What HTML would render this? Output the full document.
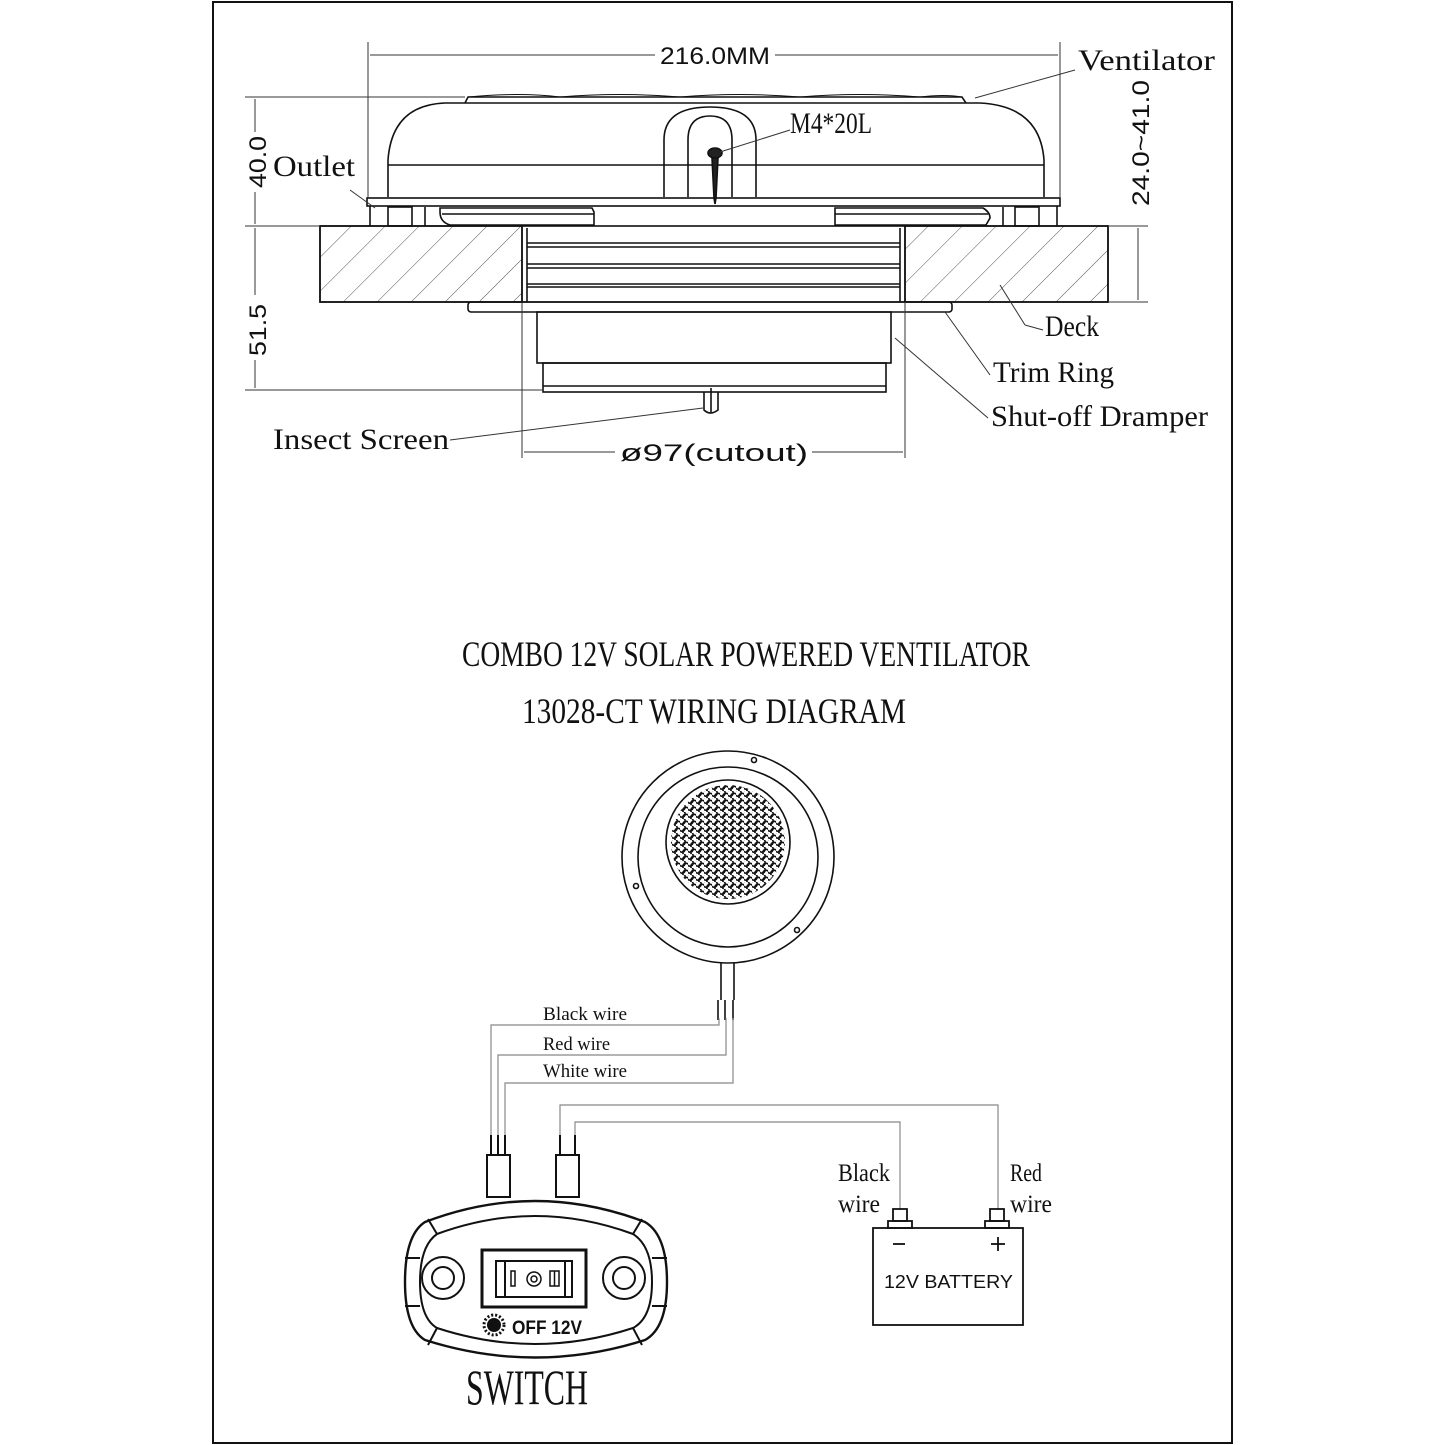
<!DOCTYPE html>
<html><head><meta charset="utf-8"><style>
html,body{margin:0;padding:0;background:#fff}
svg{display:block}
text{font-family:"Liberation Serif",serif;fill:#111}
.s{font-family:"Liberation Sans",sans-serif}
</style></head><body>
<svg width="1445" height="1445" viewBox="0 0 1445 1445" xmlns="http://www.w3.org/2000/svg">
<defs>
<pattern id="hatch" patternUnits="userSpaceOnUse" width="24" height="24" patternTransform="rotate(45)">
<line x1="0" y1="0" x2="0" y2="24" stroke="#555" stroke-width="1"/>
</pattern>
<pattern id="dots" patternUnits="userSpaceOnUse" width="8" height="7">
<circle cx="2" cy="2" r="3.2" fill="none" stroke="#111" stroke-width="1.6"/>
<circle cx="6" cy="5.5" r="3.2" fill="none" stroke="#111" stroke-width="1.6"/>
</pattern>
<clipPath id="gc"><circle cx="728" cy="842" r="57"/></clipPath>
</defs>
<rect x="213" y="2" width="1019" height="1441" fill="none" stroke="#111" stroke-width="2"/>

<!-- TOP DRAWING -->
<g fill="none" stroke="#111" stroke-width="1.6">
<path d="M465,103 L468,97 L962,97 L966,103"/>
<path d="M468,97 Q520,92 560,97 Q620,92 680,97 Q740,92 800,97 Q860,92 920,97 Q945,94 962,97" stroke-width="1"/>
<path d="M388,197 L388,160 Q392,105 445,103 L980,103 Q1040,106 1044,160 L1044,197"/>
<line x1="388" y1="165" x2="1044" y2="165"/>
<path d="M664,197 L664,140 Q664,107 710,107 Q756,107 756,140 L756,197"/>
<path d="M688,197 L688,140 Q688,116 710,116 Q732,116 732,140 L732,197"/>
<ellipse cx="715" cy="153" rx="7" ry="5" fill="#222"/>
<path d="M712,158 L718,158 L716,198 L715,204 L714,198Z" fill="#222"/>
<rect x="367" y="198" width="693" height="8"/>
<line x1="370" y1="206" x2="370" y2="226"/>
<line x1="1057" y1="206" x2="1057" y2="226"/>
<rect x="388" y="207" width="24" height="19"/>
<rect x="1015" y="207" width="24" height="19"/>
<line x1="425" y1="207" x2="425" y2="226"/><line x1="1003" y1="207" x2="1003" y2="226"/>
<path d="M440,208 L592,208 L594,212 L594,225 L450,225 Q440,222 440,212Z"/>
<line x1="442" y1="214" x2="594" y2="214"/>
<path d="M835,208 L983,208 Q990,212 990,218 L986,225 L835,225Z"/>
<line x1="835" y1="214" x2="988" y2="214"/>
<rect x="320" y="226" width="202" height="76" fill="url(#hatch)"/>
<rect x="905" y="226" width="203" height="76" fill="url(#hatch)"/>
<rect x="320" y="226" width="788" height="76"/>
<line x1="522" y1="226" x2="522" y2="302"/><line x1="905" y1="226" x2="905" y2="302"/>
<line x1="527" y1="228" x2="527" y2="302"/><line x1="900" y1="228" x2="900" y2="302"/>
<line x1="527" y1="243" x2="900" y2="243"/><line x1="527" y1="247" x2="900" y2="247"/>
<line x1="527" y1="264" x2="900" y2="264"/><line x1="527" y1="268" x2="900" y2="268"/>
<line x1="527" y1="284" x2="900" y2="284"/><line x1="527" y1="287" x2="900" y2="287"/>
<rect x="468" y="302" width="484" height="10" rx="3"/>
<rect x="537" y="312" width="354" height="51"/>
<rect x="543" y="363" width="343" height="29"/>
<line x1="543" y1="386" x2="886" y2="386"/>
<path d="M704,392 L704,410 Q710,416 718,410 L718,392"/>
<line x1="711" y1="388" x2="711" y2="412"/>
</g>
<g fill="none" stroke="#333" stroke-width="1">
<line x1="368" y1="42" x2="368" y2="198"/><line x1="1060" y1="42" x2="1060" y2="198"/>
<line x1="370" y1="55" x2="655" y2="55"/><line x1="775" y1="55" x2="1058" y2="55"/>
<line x1="245" y1="97" x2="465" y2="97"/>
<line x1="245" y1="226" x2="320" y2="226"/>
<line x1="245" y1="390" x2="543" y2="390"/>
<line x1="255" y1="99" x2="255" y2="132"/><line x1="255" y1="192" x2="255" y2="224"/>
<line x1="255" y1="228" x2="255" y2="295"/><line x1="255" y1="360" x2="255" y2="388"/>
<line x1="1108" y1="226" x2="1148" y2="226"/><line x1="1108" y1="302" x2="1148" y2="302"/>
<line x1="1138" y1="228" x2="1138" y2="300"/>
<line x1="522" y1="302" x2="522" y2="458"/><line x1="905" y1="302" x2="905" y2="458"/>
<line x1="524" y1="452" x2="615" y2="452"/><line x1="812" y1="452" x2="903" y2="452"/>
<line x1="1075" y1="70" x2="975" y2="98"/>
<line x1="790" y1="130" x2="720" y2="152"/>
<line x1="350" y1="190" x2="375" y2="208"/>
<line x1="1043" y1="330" x2="1025" y2="325"/><line x1="1025" y1="325" x2="1000" y2="285"/>
<line x1="990" y1="375" x2="945" y2="312"/>
<line x1="988" y1="418" x2="895" y2="338"/>
<line x1="450" y1="440" x2="703" y2="408"/>
</g>
<g font-size="30">
<text x="660" y="64" class="s" font-size="24" textLength="110" lengthAdjust="spacingAndGlyphs">216.0MM</text>
<text x="1078" y="70" textLength="137" lengthAdjust="spacingAndGlyphs">Ventilator</text>
<text x="790" y="133" textLength="82" lengthAdjust="spacingAndGlyphs">M4*20L</text>
<text x="273" y="176" textLength="82" lengthAdjust="spacingAndGlyphs">Outlet</text>
<text x="1045" y="336" textLength="54" lengthAdjust="spacingAndGlyphs">Deck</text>
<text x="993" y="382" textLength="121" lengthAdjust="spacingAndGlyphs">Trim Ring</text>
<text x="991" y="426" textLength="217" lengthAdjust="spacingAndGlyphs">Shut-off Dramper</text>
<text x="273" y="449" textLength="176" lengthAdjust="spacingAndGlyphs">Insect Screen</text>
<text x="620" y="461" class="s" font-size="24" textLength="188" lengthAdjust="spacingAndGlyphs">ø97(cutout)</text>
<text class="s" font-size="24" transform="translate(266,188) rotate(-90)" textLength="52" lengthAdjust="spacingAndGlyphs">40.0</text>
<text class="s" font-size="24" transform="translate(266,356) rotate(-90)" textLength="52" lengthAdjust="spacingAndGlyphs">51.5</text>
<text class="s" font-size="24" transform="translate(1149,206) rotate(-90)" textLength="126" lengthAdjust="spacingAndGlyphs">24.0~41.0</text>
</g>

<text x="462" y="666" font-size="36" textLength="568" lengthAdjust="spacingAndGlyphs">COMBO 12V SOLAR POWERED VENTILATOR</text>
<text x="522" y="723" font-size="36" textLength="384" lengthAdjust="spacingAndGlyphs">13028-CT WIRING DIAGRAM</text>

<g fill="none" stroke="#111" stroke-width="1.6">
<circle cx="728" cy="857" r="106"/>
<circle cx="728" cy="857" r="90"/>
<circle cx="728" cy="842" r="62"/>
<circle cx="754" cy="760" r="2.5"/><circle cx="636" cy="886" r="2.5"/><circle cx="797" cy="930" r="2.5"/>
<line x1="721" y1="963" x2="721" y2="1000"/><line x1="734" y1="963" x2="734" y2="1000"/>
<line x1="718" y1="1000" x2="718" y2="1020"/><line x1="725" y1="1000" x2="725" y2="1020"/><line x1="733" y1="1000" x2="733" y2="1020"/>
</g>
<rect x="668" y="782" width="120" height="120" fill="url(#dots)" clip-path="url(#gc)"/>

<g fill="none" stroke="#888" stroke-width="1.2">
<path d="M719,1018 L719,1025 L491,1025 L491,1135"/>
<path d="M726,1018 L726,1055 L498,1055 L498,1135"/>
<path d="M733,1018 L733,1083 L505,1083 L505,1135"/>
<path d="M560,1135 L560,1105 L998,1105 L998,1210"/>
<path d="M575,1135 L575,1122 L900,1122 L900,1210"/>
</g>
<g font-size="19">
<text x="543" y="1020" textLength="84" lengthAdjust="spacingAndGlyphs">Black wire</text>
<text x="543" y="1050" textLength="67" lengthAdjust="spacingAndGlyphs">Red wire</text>
<text x="543" y="1077" textLength="84" lengthAdjust="spacingAndGlyphs">White wire</text>
<text x="838" y="1181" font-size="25" textLength="52" lengthAdjust="spacingAndGlyphs">Black</text>
<text x="838" y="1212" font-size="25" textLength="42" lengthAdjust="spacingAndGlyphs">wire</text>
<text x="1010" y="1181" font-size="25" textLength="32" lengthAdjust="spacingAndGlyphs">Red</text>
<text x="1010" y="1212" font-size="25" textLength="42" lengthAdjust="spacingAndGlyphs">wire</text>
</g>

<g fill="none" stroke="#111" stroke-width="2">
<line x1="491" y1="1135" x2="491" y2="1155"/><line x1="498" y1="1135" x2="498" y2="1155"/><line x1="505" y1="1135" x2="505" y2="1155"/>
<line x1="560" y1="1135" x2="560" y2="1155"/><line x1="575" y1="1135" x2="575" y2="1155"/>
<rect x="487" y="1155" width="23" height="42"/>
<rect x="556" y="1155" width="23" height="42"/>
<path d="M425,1222 Q535,1180 645,1222 Q667,1235 667,1282 Q667,1328 645,1340 Q535,1375 425,1340 Q405,1328 405,1282 Q405,1235 425,1222Z" stroke-width="2.4"/>
<path d="M437,1234 Q535,1198 633,1234 Q652,1246 652,1282 Q652,1318 633,1328 Q535,1360 437,1328 Q420,1318 420,1282 Q420,1246 437,1234Z"/>
<line x1="405" y1="1258" x2="420" y2="1258"/><line x1="405" y1="1306" x2="420" y2="1306"/>
<line x1="652" y1="1258" x2="667" y2="1258"/><line x1="652" y1="1306" x2="667" y2="1306"/>
<line x1="428" y1="1219" x2="437" y2="1234"/><line x1="642" y1="1219" x2="633" y2="1234"/>
<line x1="428" y1="1345" x2="437" y2="1328"/><line x1="642" y1="1345" x2="633" y2="1328"/>
<circle cx="443" cy="1278" r="21"/><circle cx="443" cy="1278" r="11"/>
<circle cx="624" cy="1278" r="21"/><circle cx="624" cy="1278" r="11"/>
<rect x="482" y="1250" width="104" height="57" stroke-width="3"/>
<rect x="496" y="1261" width="76" height="36"/>
<line x1="505" y1="1261" x2="505" y2="1297"/><line x1="565" y1="1261" x2="565" y2="1297"/>
<rect x="511" y="1271" width="4" height="15" stroke-width="1.5"/>
<circle cx="534" cy="1279" r="7" stroke-width="1.5"/><circle cx="534" cy="1279" r="3" stroke-width="1.5"/>
<rect x="550" y="1271" width="9" height="15" stroke-width="1.5"/><line x1="554.5" y1="1271" x2="554.5" y2="1286" stroke-width="1.5"/>
</g>
<circle cx="494" cy="1325" r="7" fill="#111"/>
<circle cx="494" cy="1325" r="10" fill="none" stroke="#111" stroke-width="3" stroke-dasharray="2 2"/>
<text x="512" y="1334" class="s" font-size="19" font-weight="bold" textLength="70" lengthAdjust="spacingAndGlyphs">OFF 12V</text>
<text x="466" y="1404" font-size="50" textLength="122" lengthAdjust="spacingAndGlyphs">SWITCH</text>

<g fill="none" stroke="#111" stroke-width="1.8">
<rect x="873" y="1228" width="150" height="97"/>
<rect x="893" y="1209" width="14" height="12"/><rect x="888" y="1221" width="24" height="7"/>
<rect x="990" y="1209" width="14" height="12"/><rect x="985" y="1221" width="24" height="7"/>
<line x1="893" y1="1244" x2="905" y2="1244"/>
<line x1="991" y1="1244" x2="1005" y2="1244"/><line x1="998" y1="1237" x2="998" y2="1251"/>
</g>
<text x="884" y="1288" class="s" font-size="18" textLength="129" lengthAdjust="spacingAndGlyphs">12V BATTERY</text>
</svg>
</body></html>
